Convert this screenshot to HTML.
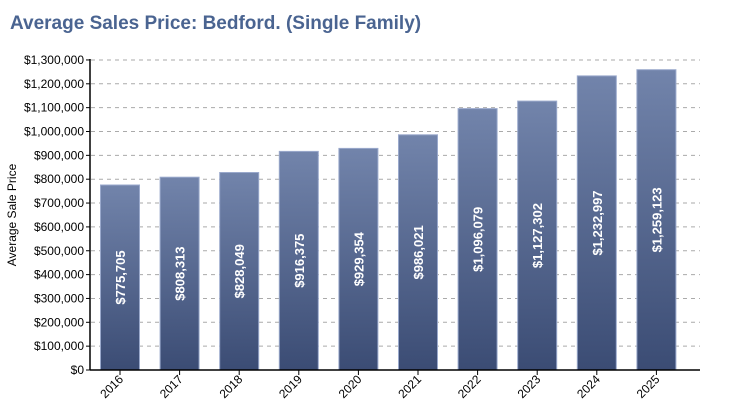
<!DOCTYPE html>
<html><head><meta charset="utf-8"><style>body{margin:0;background:#fff}svg{display:block}</style></head><body>
<svg width="730" height="420" xmlns="http://www.w3.org/2000/svg" font-family="'Liberation Sans',sans-serif">
<defs><linearGradient id="g" x1="0" y1="0" x2="0" y2="1"><stop offset="0" stop-color="#7284ab"/><stop offset="1" stop-color="#3b4c74"/></linearGradient></defs>
<text x="10" y="29" font-size="19" font-weight="bold" fill="#4a6491">Average Sales Price: Bedford. (Single Family)</text>
<text transform="translate(16,215) rotate(-90)" font-size="12" text-anchor="middle" fill="#000">Average Sale Price</text>
<g stroke="#aaa" stroke-dasharray="4,4">
<line x1="91" x2="700" y1="346.15" y2="346.15"/><line x1="91" x2="700" y1="322.3" y2="322.3"/><line x1="91" x2="700" y1="298.45" y2="298.45"/><line x1="91" x2="700" y1="274.6" y2="274.6"/><line x1="91" x2="700" y1="250.75" y2="250.75"/><line x1="91" x2="700" y1="226.9" y2="226.9"/><line x1="91" x2="700" y1="203.05" y2="203.05"/><line x1="91" x2="700" y1="179.2" y2="179.2"/><line x1="91" x2="700" y1="155.35" y2="155.35"/><line x1="91" x2="700" y1="131.5" y2="131.5"/><line x1="91" x2="700" y1="107.65" y2="107.65"/><line x1="91" x2="700" y1="83.8" y2="83.8"/><line x1="91" x2="700" y1="59.95" y2="59.95"/>
</g>
<g stroke="#000">
<line x1="86" x2="90" y1="370" y2="370"/><line x1="86" x2="90" y1="346.15" y2="346.15"/><line x1="86" x2="90" y1="322.3" y2="322.3"/><line x1="86" x2="90" y1="298.45" y2="298.45"/><line x1="86" x2="90" y1="274.6" y2="274.6"/><line x1="86" x2="90" y1="250.75" y2="250.75"/><line x1="86" x2="90" y1="226.9" y2="226.9"/><line x1="86" x2="90" y1="203.05" y2="203.05"/><line x1="86" x2="90" y1="179.2" y2="179.2"/><line x1="86" x2="90" y1="155.35" y2="155.35"/><line x1="86" x2="90" y1="131.5" y2="131.5"/><line x1="86" x2="90" y1="107.65" y2="107.65"/><line x1="86" x2="90" y1="83.8" y2="83.8"/><line x1="86" x2="90" y1="59.95" y2="59.95"/>
</g>
<g font-size="12" text-anchor="end" fill="#000">
<text x="84" y="374">$0</text><text x="84" y="350.15">$100,000</text><text x="84" y="326.3">$200,000</text><text x="84" y="302.45">$300,000</text><text x="84" y="278.6">$400,000</text><text x="84" y="254.75">$500,000</text><text x="84" y="230.9">$600,000</text><text x="84" y="207.05">$700,000</text><text x="84" y="183.2">$800,000</text><text x="84" y="159.35">$900,000</text><text x="84" y="135.5">$1,000,000</text><text x="84" y="111.65">$1,100,000</text><text x="84" y="87.8">$1,200,000</text><text x="84" y="63.95">$1,300,000</text>
</g>
<g fill="url(#g)" stroke="#9aa9cc" stroke-width="1">
<rect x="100.5" y="185" width="39" height="185"/>
<rect x="160.1" y="177.2" width="39" height="192.8"/>
<rect x="219.7" y="172.5" width="39" height="197.5"/>
<rect x="279.3" y="151.4" width="39" height="218.6"/>
<rect x="338.9" y="148.4" width="39" height="221.6"/>
<rect x="398.5" y="134.8" width="39" height="235.2"/>
<rect x="458.1" y="108.6" width="39" height="261.4"/>
<rect x="517.7" y="101.1" width="39" height="268.9"/>
<rect x="577.3" y="75.9" width="39" height="294.1"/>
<rect x="636.9" y="69.7" width="39" height="300.3"/>
</g>
<g font-size="13" font-weight="bold" fill="#fff" text-anchor="middle">
<text transform="translate(125,277.5) rotate(-90)">$775,705</text>
<text transform="translate(184.6,273.6) rotate(-90)">$808,313</text>
<text transform="translate(244.2,271.3) rotate(-90)">$828,049</text>
<text transform="translate(303.8,260.7) rotate(-90)">$916,375</text>
<text transform="translate(363.4,259.2) rotate(-90)">$929,354</text>
<text transform="translate(423,252.4) rotate(-90)">$986,021</text>
<text transform="translate(482.6,239.3) rotate(-90)">$1,096,079</text>
<text transform="translate(542.2,235.6) rotate(-90)">$1,127,302</text>
<text transform="translate(601.8,223) rotate(-90)">$1,232,997</text>
<text transform="translate(661.4,219.9) rotate(-90)">$1,259,123</text>
</g>
<g stroke="#000">
<line x1="120" x2="120" y1="370" y2="375"/><line x1="179.6" x2="179.6" y1="370" y2="375"/><line x1="239.2" x2="239.2" y1="370" y2="375"/><line x1="298.8" x2="298.8" y1="370" y2="375"/><line x1="358.4" x2="358.4" y1="370" y2="375"/><line x1="418" x2="418" y1="370" y2="375"/><line x1="477.6" x2="477.6" y1="370" y2="375"/><line x1="537.2" x2="537.2" y1="370" y2="375"/><line x1="596.8" x2="596.8" y1="370" y2="375"/><line x1="656.4" x2="656.4" y1="370" y2="375"/>
</g>
<g font-size="12" text-anchor="end" fill="#000">
<text transform="translate(124,380) rotate(-45)">2016</text>
<text transform="translate(183.6,380) rotate(-45)">2017</text>
<text transform="translate(243.2,380) rotate(-45)">2018</text>
<text transform="translate(302.8,380) rotate(-45)">2019</text>
<text transform="translate(362.4,380) rotate(-45)">2020</text>
<text transform="translate(422,380) rotate(-45)">2021</text>
<text transform="translate(481.6,380) rotate(-45)">2022</text>
<text transform="translate(541.2,380) rotate(-45)">2023</text>
<text transform="translate(600.8,380) rotate(-45)">2024</text>
<text transform="translate(660.4,380) rotate(-45)">2025</text>
</g>
<line x1="90" x2="90" y1="59" y2="370" stroke="#000" stroke-width="1.5"/>
<line x1="90" x2="700" y1="370" y2="370" stroke="#000" stroke-width="1.5"/>
</svg>
</body></html>
